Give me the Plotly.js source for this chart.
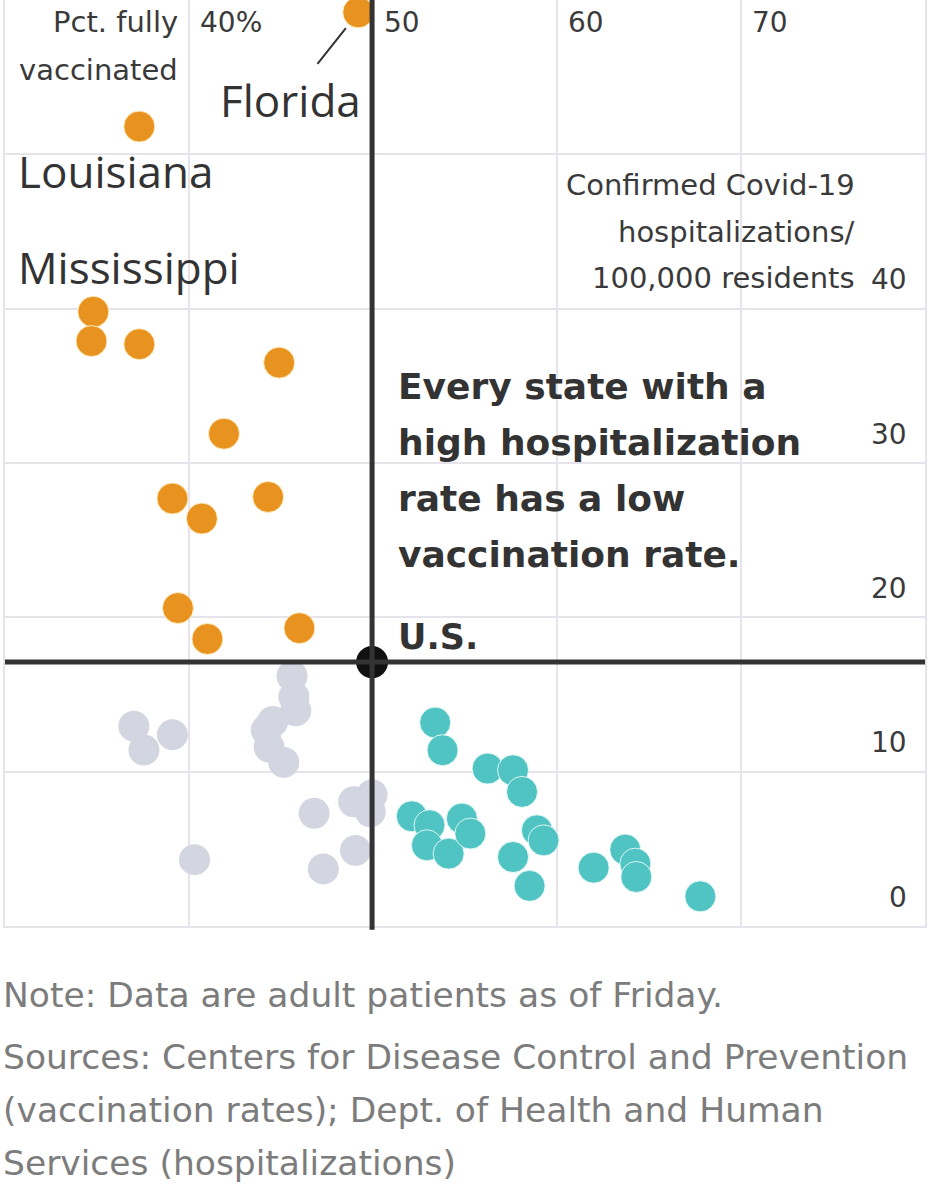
<!DOCTYPE html>
<html>
<head>
<meta charset="utf-8">
<script src="https://cdn.plot.ly/plotly-3.0.1.min.js"></script>
<style>
  html, body { margin: 0; padding: 0; background: #ffffff; }
  #chart { width: 930px; height: 1200px; }
</style>
</head>
<body>
<div id="chart"></div>
<script>
// Percent of adults fully vaccinated (x) vs. confirmed Covid-19 hospitalizations per 100,000 residents (y)

// States above the U.S. hospitalization rate
const highHospX = [49.2, 37.3, 34.8, 34.7, 37.3, 44.9, 41.9, 39.1, 44.3, 40.7, 39.4, 46.0, 41.0];
const highHospY = [59.2, 51.8, 39.8, 37.9, 37.7, 36.5, 31.9, 27.7, 27.8, 26.4, 20.6, 19.3, 18.6];

// States below the U.S. rates on both measures
const lowVaxX = [45.6, 45.7, 45.8, 44.2, 44.55, 44.35, 45.15, 37.0, 37.55, 39.1, 40.3, 46.8, 48.95, 49.95, 49.85, 49.05, 47.3];
const lowVaxY = [16.2, 14.85, 13.95, 12.7, 13.25, 11.6, 10.6, 12.95, 11.4, 12.4, 4.3, 7.3, 8.05, 8.5, 7.4, 4.9, 3.7];

// States above the U.S. vaccination rate
const highVaxX = [53.38, 53.78, 56.23, 57.61, 58.10, 52.11, 53.07, 52.93, 54.11, 54.83, 55.29, 58.91, 59.27, 57.61, 58.51, 61.99, 63.71, 64.26, 64.31, 67.79];
const highVaxY = [13.18, 11.39, 10.2, 10.09, 8.69, 7.11, 6.53, 5.23, 4.69, 6.96, 5.99, 6.2, 5.55, 4.47, 2.6, 3.78, 4.95, 4.04, 3.18, 1.92];

// National average
const usX = [49.95];
const usY = [17.1];

// Axis ticks
const xTickVals = [40, 50, 60, 70];
const xTickText = ['40%', '50', '60', '70'];
const yTickVals = [0, 10, 20, 30, 40];
const yTickText = ['0', '10', '20', '30', '40'];

// Text blocks
const xTitleLines = ['Pct. fully', 'vaccinated'];
const yTitleLines = ['Confirmed Covid-19', 'hospitalizations/', '100,000 residents'];
const headlineLines = ['Every state with a', 'high hospitalization', 'rate has a low', 'vaccination rate.'];
const footerLines = [
  'Note: Data are adult patients as of Friday.',
  'Sources: Centers for Disease Control and Prevention',
  '(vaccination rates); Dept. of Health and Human',
  'Services (hospitalizations)'
];

const ORANGE = '#e8931f';
const TEAL = '#4fc4c2';
const GREY = '#d3d5e0';
const INK = '#333333';
const GRID = '#e6e4ea';

const PLAIN = 'DejaVu Sans, sans-serif';
const LABEL = 'Open Sans, Noto Sans, sans-serif';
const BOLD = 'DejaVu Sans, sans-serif';

// plot box: 5..925 px across, 0..926 px down
const W = 930, H = 1200, ML = 5, MR = 5, MT = 0, MB = 274;
const PW = W - ML - MR, PH = H - MT - MB;
const px = p => (p - ML) / PW;
const py = p => (PH + MT - p) / PH;

const traces = [
  {
    type: 'scatter', mode: 'markers', x: lowVaxX, y: lowVaxY, hoverinfo: 'skip',
    marker: { size: 31, color: GREY, line: { width: 0 } }
  },
  {
    type: 'scatter', mode: 'markers', x: highVaxX, y: highVaxY, hoverinfo: 'skip',
    marker: { size: 31, color: TEAL, line: { width: 1, color: 'rgba(235,250,250,0.9)' } }
  },
  {
    type: 'scatter', mode: 'markers', x: highHospX, y: highHospY, hoverinfo: 'skip',
    marker: { size: 31, color: ORANGE, line: { width: 1, color: 'rgba(255,240,200,0.9)' } }
  },
  {
    type: 'scatter', mode: 'markers', x: usX, y: usY, hoverinfo: 'skip',
    marker: { size: 32, color: '#111111' }
  }
];

const annotations = [];

xTickVals.forEach((v, i) => annotations.push({
  xref: 'x', yref: 'paper', x: v, y: py(22), xanchor: 'left', yanchor: 'middle', xshift: 9,
  text: xTickText[i], showarrow: false, font: { family: PLAIN, size: 28, color: '#3a3a3a' }
}));

yTickVals.forEach((v, i) => annotations.push({
  xref: 'paper', yref: 'y', x: px(909), y: v, xanchor: 'right', yanchor: 'middle', yshift: 29,
  text: yTickText[i], showarrow: false, font: { family: PLAIN, size: 28, color: '#3a3a3a' }
}));

xTitleLines.forEach((t, i) => annotations.push({
  xref: 'paper', yref: 'paper', x: px(180), y: py(22 + 48 * i), xanchor: 'right', yanchor: 'middle',
  text: t, showarrow: false, font: { family: PLAIN, size: 29, color: '#3a3a3a' }
}));

yTitleLines.forEach((t, i) => annotations.push({
  xref: 'paper', yref: 'paper', x: px(857), y: py(185 + 46.5 * i), xanchor: 'right', yanchor: 'middle',
  text: t, showarrow: false, font: { family: PLAIN, size: 29, color: '#3a3a3a' }
}));

headlineLines.forEach((t, i) => annotations.push({
  xref: 'paper', yref: 'paper', x: px(396), y: py(387 + 55.7 * i), xanchor: 'left', yanchor: 'middle',
  text: t, showarrow: false, font: { family: BOLD, size: 36, color: INK, weight: 'bold' }
}));

// U.S. label next to the national point
annotations.push({
  xref: 'x', yref: 'y', x: usX[0], y: usY[0], xanchor: 'left', yanchor: 'middle', xshift: 24, yshift: 25,
  text: 'U.S.', showarrow: false, font: { family: BOLD, size: 35, color: INK, weight: 'bold' }
});

// State labels
annotations.push({
  xref: 'x', yref: 'y', x: highHospX[0], y: highHospY[0], xanchor: 'center', yanchor: 'middle',
  xshift: -68, yshift: -88, text: 'Florida', showarrow: false,
  font: { family: LABEL, size: 44, color: INK }
});
annotations.push({
  xref: 'x', yref: 'y', x: highHospX[0], y: highHospY[0], text: '', showarrow: true,
  arrowhead: 0, arrowwidth: 2, arrowcolor: INK, ax: -42, ay: 53, standoff: 20
});
annotations.push({
  xref: 'x', yref: 'y', x: highHospX[1], y: highHospY[1], xanchor: 'left', yanchor: 'middle',
  xshift: -123, yshift: -44, text: 'Louisiana', showarrow: false,
  font: { family: LABEL, size: 44, color: INK }
});
annotations.push({
  xref: 'x', yref: 'y', x: highHospX[2], y: highHospY[2], xanchor: 'left', yanchor: 'middle',
  xshift: -77, yshift: 45, text: 'Mississippi', showarrow: false,
  font: { family: LABEL, size: 44, color: INK }
});

footerLines.forEach((t, i) => annotations.push({
  xref: 'paper', yref: 'paper', x: px(1), y: py(995 + (i === 0 ? 0 : 62 + 53 * (i - 1))),
  xanchor: 'left', yanchor: 'middle', text: t, showarrow: false,
  font: { family: PLAIN, size: 34.5, color: '#7c7c7c' }
}));

const shapes = [
  { type: 'line', xref: 'x', yref: 'paper', x0: usX[0], x1: usX[0], y0: -0.004, y1: 1,
    line: { color: INK, width: 5 } },
  { type: 'line', xref: 'paper', yref: 'y', x0: 0, x1: 1, y0: usY[0], y1: usY[0],
    line: { color: INK, width: 5 } }
];

const axisCommon = {
  showgrid: true, gridcolor: GRID, gridwidth: 2, zeroline: false,
  showline: true, mirror: true, linecolor: GRID, linewidth: 2,
  showticklabels: false, ticks: '', fixedrange: true
};

const layout = {
  width: W, height: H,
  margin: { l: ML, r: MR, t: MT, b: MB, pad: 0 },
  paper_bgcolor: '#ffffff', plot_bgcolor: '#ffffff',
  showlegend: false,
  xaxis: Object.assign({}, axisCommon, { range: [30, 80], tickvals: [30, 40, 50, 60, 70, 80] }),
  yaxis: Object.assign({}, axisCommon, { range: [0, 60], tickvals: [0, 10, 20, 30, 40, 50, 60] }),
  annotations: annotations,
  shapes: shapes
};

Plotly.newPlot('chart', traces, layout, { displayModeBar: false, staticPlot: true });
</script>
</body>
</html>
